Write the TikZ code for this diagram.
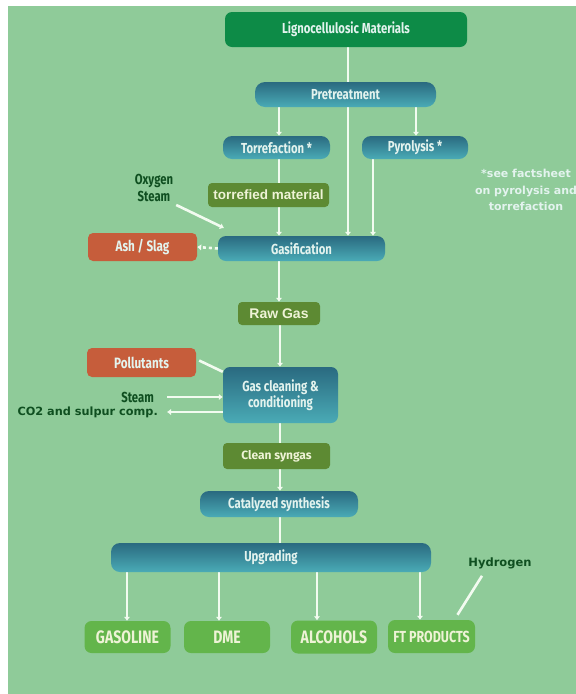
\documentclass[tikz,border=0pt]{standalone}
\usepackage{fontspec}
\setmainfont{Fira Sans}
\newfontfamily\cond[FakeStretch=0.78]{Fira Sans}
\newfontfamily\lsans{Liberation Sans}
\newfontfamily\dejab{DejaVu Sans}
\usetikzlibrary{arrows.meta}
\pgfdeclarelayer{bg}
\pgfsetlayers{bg,main}
\definecolor{bgG}{HTML}{8FCB99}
\definecolor{ligG}{HTML}{0D8B47}
\definecolor{tealT}{HTML}{2A6A80}
\definecolor{tealB}{HTML}{4AABB6}
\definecolor{olive}{HTML}{5D8A33}
\definecolor{orng}{HTML}{C65D3B}
\definecolor{prodG}{HTML}{63B54B}
\definecolor{dkG}{HTML}{0F4F20}
\definecolor{lineW}{HTML}{F2FBF0}
\definecolor{txtL}{HTML}{E3F3EE}
\definecolor{txtY}{HTML}{EEF3D6}
\begin{document}
\begin{tikzpicture}[x=1pt,y=-1pt,
  bx/.style={rounded corners=7pt, inner sep=0pt, align=center},
  greenbox/.style={bx, fill=ligG, text=txtL, font=\cond\bfseries\fontsize{14.5}{17}\selectfont},
  tealbox/.style={bx, top color=tealT, bottom color=tealB, text=txtL, font=\cond\bfseries\fontsize{14.5}{16.5}\selectfont},
  olivebox/.style={bx, rounded corners=4pt, fill=olive, text=txtY},
  orangebox/.style={bx, rounded corners=5pt, fill=orng, text=txtL, font=\cond\bfseries\fontsize{15}{17}\selectfont},
  prodbox/.style={bx, rounded corners=7pt, fill=prodG, text=txtY, minimum width=86pt, minimum height=32pt, font=\cond\bfseries\fontsize{18}{20}\selectfont},
  dktext/.style={text=dkG, inner sep=0pt, align=center},
  arr/.style={draw=lineW, line width=2.6pt, -{Latex[length=4pt,width=6.5pt]}},
  ln/.style={draw=lineW, line width=2.6pt}
]
\useasboundingbox (0,0) rectangle (576,694);

% nodes
\node[greenbox, minimum width=242pt, minimum height=35pt] (ligno) at (346,29.5) {Lignocellulosic Materials};
\node[tealbox, rounded corners=10pt, minimum width=181pt, minimum height=25pt] (pre) at (345.5,94.5) {Pretreatment};
\node[tealbox, rounded corners=9pt, minimum width=107pt, minimum height=23pt] (torr) at (276.5,147.5) {Torrefaction *};
\node[tealbox, rounded corners=9pt, minimum width=106pt, minimum height=23pt] (pyro) at (415,147.5) {Pyrolysis *};
\node[olivebox, minimum width=121pt, minimum height=24pt, font=\lsans\bfseries\fontsize{13.5}{15}\selectfont] (torm) at (268.5,195) {torrefied material};
\node[dktext, font=\cond\bfseries\fontsize{14.5}{17}\selectfont] (oxy) at (154,188) {Oxygen\\Steam};
\node[text=txtL, inner sep=0pt, align=center, font=\dejab\bfseries\fontsize{11}{16.5}\selectfont] (note) at (526,190) {*see factsheet\\on pyrolysis and\\torrefaction};
\node[orangebox, minimum width=109pt, minimum height=28pt] (ash) at (142.5,247) {Ash / Slag};
\node[tealbox, rounded corners=8pt, minimum width=167pt, minimum height=25pt] (gas) at (301.5,248.5) {Gasification};
\node[olivebox, minimum width=82pt, minimum height=23pt, font=\lsans\bfseries\fontsize{14}{16}\selectfont] (raw) at (279,313.5) {Raw Gas};
\node[orangebox, minimum width=109pt, minimum height=29pt] (poll) at (141.5,362.5) {Pollutants};
\node[tealbox, rounded corners=7pt, minimum width=115pt, minimum height=56pt] (gcc) at (280.5,395) {Gas cleaning \&\\conditioning};
\node[dktext, anchor=east, font=\cond\bfseries\fontsize{14.5}{16}\selectfont] (stm) at (154,397) {Steam};
\node[dktext, anchor=east, font=\dejab\bfseries\fontsize{11.3}{13}\selectfont] (co2) at (158,412) {CO2 and sulpur comp.};
\node[olivebox, minimum width=107pt, minimum height=26pt, font=\bfseries\fontsize{12}{14}\selectfont] (clean) at (276.5,456) {Clean syngas};
\node[tealbox, rounded corners=9pt, minimum width=158pt, minimum height=26pt] (cat) at (279,504) {Catalyzed synthesis};
\node[tealbox, rounded corners=9pt, minimum width=320pt, minimum height=29pt] (upg) at (271,557.5) {Upgrading};
\node[dktext, font=\dejab\bfseries\fontsize{11.5}{13}\selectfont] (hyd) at (500,563) {Hydrogen};
\node[prodbox] (gsl) at (127.5,637) {GASOLINE};
\node[prodbox] (dme) at (227,637) {DME};
\node[prodbox, minimum height=33pt] (alc) at (334,637) {ALCOHOLS};
\node[prodbox, minimum width=87pt, minimum height=33pt, font=\cond\bfseries\fontsize{16}{18}\selectfont] (ftp) at (431.5,636.5) {FT PRODUCTS};

\coordinate (xA) at (279,0);
\coordinate (xB) at (348,0);
\coordinate (xC) at (416,0);
\coordinate (xD) at (373,0);
\coordinate (xE) at (280,0);
\coordinate (u1) at (127,0);
\coordinate (u2) at (219,0);
\coordinate (u3) at (317,0);
\coordinate (u4) at (420,0);
\coordinate (gasin) at (224,228);

\begin{pgfonlayer}{bg}
\fill[white] (0,0) rectangle (576,694);
\fill[bgG] (8,6) rectangle (576,694);
\draw[ln] (ligno.south -| xB) -- (pre.north -| xB);
\draw[arr] (pre.south -| xA) -- (torr.north -| xA);
\draw[arr] (pre.south -| xB) -- (gas.north -| xB);
\draw[arr] (pre.south -| xC) -- (pyro.north -| xC);
\draw[arr] (torr.south -| xA) -- (gas.north -| xA);
\draw[arr] (pyro.south -| xD) -- (gas.north -| xD);
\draw[arr] ([xshift=3pt,yshift=-3pt]oxy.south east) -- (gasin);
\draw[arr, dash pattern=on 3pt off 3pt] (gas.west) -- (ash.east);
\draw[arr] (gas.south -| xA) -- (raw.north -| xA);
\draw[arr] (raw.south -| xE) -- (gcc.north -| xE);
\draw[ln] ([xshift=3pt,yshift=2pt]poll.east) -- ([yshift=-5pt]gcc.north west);
\draw[arr] ([xshift=13pt]stm.east) -- (stm.east -| gcc.west);
\draw[arr] (co2.east -| gcc.west) -- ([xshift=9pt]co2.east);
\draw[ln] (gcc.south -| xE) -- (clean.north -| xE);
\draw[arr] (clean.south -| xE) -- (cat.north -| xE);
\draw[ln] (cat.south -| xE) -- (upg.north -| xE);
\draw[arr] (upg.south -| u1) -- (gsl.north -| u1);
\draw[arr] (upg.south -| u2) -- (dme.north -| u2);
\draw[arr] (upg.south -| u3) -- (alc.north -| u3);
\draw[arr] (upg.south -| u4) -- (ftp.north -| u4);
\draw[ln] ([xshift=-18pt,yshift=-7pt]hyd.south) -- ([xshift=26pt,yshift=5pt]ftp.north);
\end{pgfonlayer}
\end{tikzpicture}
\end{document}
